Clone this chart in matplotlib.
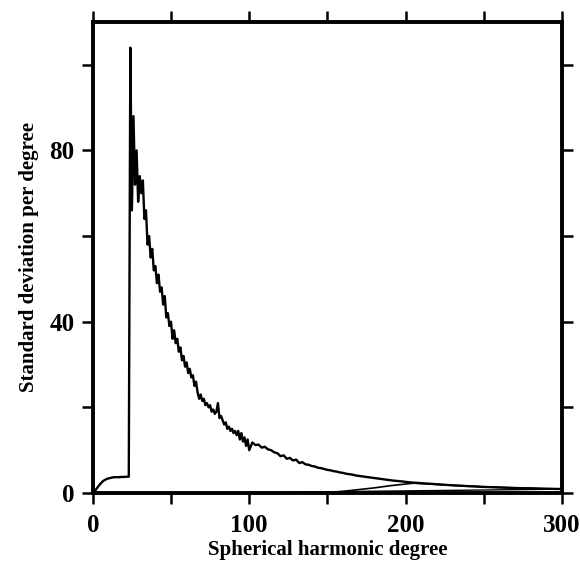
import matplotlib
matplotlib.use("Agg")
import matplotlib.pyplot as plt
from matplotlib.ticker import MultipleLocator

# Main curve: standard deviation per degree
deg_a = list(range(0, 101))
val_a = [0.0, 0.4, 0.8, 1.3, 1.8, 2.2, 2.6, 2.9, 3.1, 3.3, 3.4, 3.5, 3.6, 3.65, 3.7,
         3.7, 3.7, 3.7, 3.75, 3.75, 3.75, 3.8, 3.8, 3.8, 104.0, 66.0, 88.0, 72.0, 80.0, 68.0,
         74.0, 70.0, 73.0, 64.0, 66.0, 58.0, 60.0, 55.0, 57.0, 52.0, 53.0, 49.0, 51.0, 47.0,
         48.0, 44.0, 46.0, 41.0, 42.0, 39.0, 40.0, 36.0, 38.0, 35.0, 36.0, 33.0, 34.0, 31.0,
         32.0, 29.5, 30.5, 28.0, 29.0, 27.0, 27.5, 25.0, 26.0, 23.5, 22.0, 23.0, 21.5, 22.0,
         20.5, 21.0, 20.0, 20.5, 19.0, 19.5, 18.5, 19.0, 21.0, 17.5, 18.0, 17.0, 16.0, 16.5,
         15.0, 15.5, 14.5, 15.0, 14.0, 14.5, 13.5, 14.5, 12.5, 14.0, 12.0, 13.0, 11.0, 12.5,
         10.0]
deg_b = list(range(102, 201, 2))
val_b = [11.8, 11.2, 11.3, 10.6, 10.8, 10.2, 10.0, 9.5, 9.3, 8.6, 8.8, 8.0, 8.2, 7.6, 7.8,
         7.0, 7.2, 6.7, 6.6, 6.3, 6.2, 5.9, 5.8, 5.6, 5.4, 5.3, 5.1, 5.0, 4.8, 4.7, 4.5, 4.4,
         4.3, 4.1, 4.0, 3.9, 3.8, 3.7, 3.6, 3.5, 3.4, 3.3, 3.2, 3.1, 3.0, 2.9, 2.85, 2.75,
         2.7, 2.6]
deg_c = list(range(204, 301, 4))
val_c = [2.45, 2.35, 2.25, 2.15, 2.05, 1.95, 1.85, 1.75, 1.7, 1.6, 1.55, 1.45, 1.4, 1.35,
         1.3, 1.25, 1.2, 1.15, 1.1, 1.1, 1.05, 1.0, 1.0, 0.95, 0.95]
main_deg = deg_a + deg_b + deg_c
main_val = val_a + val_b + val_c

# Second curve (rises late, meets main curve near degree 205)
sec_deg = [0, 100, 150, 160, 170, 180, 190, 200, 205, 210, 220, 240, 260, 280, 300]
sec_val = [0.0, 0.0, 0.1, 0.4, 0.8, 1.2, 1.7, 2.1, 2.3, 2.2, 2.0, 1.6, 1.3, 1.1, 0.9]

# Third curve (near zero)
thr_deg = [0, 50, 100, 150, 200, 250, 300]
thr_val = [0.0, 0.05, 0.15, 0.3, 0.5, 0.7, 0.9]

x_ticks = [0, 100, 200, 300]
y_ticks = [0, 40, 80]

plt.rcParams['font.family'] = ['Liberation Serif', 'DejaVu Serif']

fig = plt.figure(figsize=(5.8, 5.63), dpi=100)
ax = fig.add_axes([0.160, 0.1243, 0.809, 0.8367])

ax.plot(thr_deg, thr_val, color='black', lw=1.0)
ax.plot(sec_deg, sec_val, color='black', lw=1.2)
ax.plot(main_deg, main_val, color='black', lw=1.7)

ax.set_xlim(0, 300)
ax.set_ylim(0, 110)
ax.set_xticks(x_ticks)
ax.set_yticks(y_ticks)
ax.xaxis.set_minor_locator(MultipleLocator(50))
ax.yaxis.set_minor_locator(MultipleLocator(20))

for s in ax.spines.values():
    s.set_linewidth(2.8)

ax.tick_params(which='both', direction='out', length=8, width=1.8,
               top=True, right=True, labelsize=18)
ax.tick_params(axis='x', pad=7)
ax.tick_params(axis='y', pad=5)
for lab in ax.get_xticklabels() + ax.get_yticklabels():
    lab.set_fontweight('bold')

ax.set_xlabel('Spherical harmonic degree', fontsize=15, fontweight='bold', labelpad=2)
ax.set_ylabel('Standard deviation per degree', fontsize=15, fontweight='bold', labelpad=8)

fig.savefig('out.png', dpi=100, facecolor='white')
